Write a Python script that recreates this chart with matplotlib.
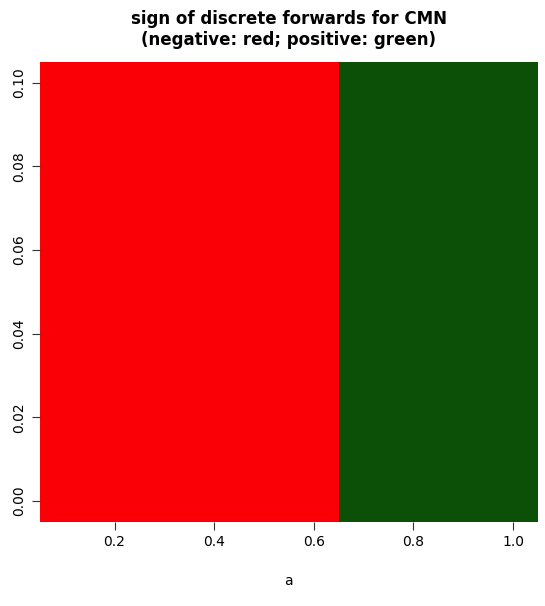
import numpy as np
import matplotlib
matplotlib.use("Agg")
import matplotlib.pyplot as plt
from matplotlib.colors import ListedColormap

a_vals = [0.1, 0.2, 0.3, 0.4, 0.5, 0.6, 0.7, 0.8, 0.9, 1.0]
y_vals = [0.00, 0.01, 0.02, 0.03, 0.04, 0.05, 0.06, 0.07, 0.08, 0.09, 0.10]
sign_by_a = [-1, -1, -1, -1, -1, -1, 1, 1, 1, 1]

Z = np.array([[1 if s > 0 else 0 for s in sign_by_a] for _ in y_vals])

fig = plt.figure(figsize=(5.45, 6.06), dpi=100)
ax = fig.add_axes([0.073, 0.139, 0.914, 0.759])
cmap = ListedColormap(["#fa0006", "#0b5006"])
ax.pcolormesh(a_vals, y_vals, Z, cmap=cmap, vmin=0, vmax=1, shading="nearest")
ax.set_xlim(0.05, 1.05)
ax.set_ylim(-0.005, 0.105)
for s in ax.spines.values():
    s.set_visible(False)
ax.set_xticks([0.2, 0.4, 0.6, 0.8, 1.0])
ax.set_xticklabels(["0.2", "0.4", "0.6", "0.8", "1.0"])
ax.set_yticks([0.00, 0.02, 0.04, 0.06, 0.08, 0.10])
ax.set_yticklabels(["0.00", "0.02", "0.04", "0.06", "0.08", "0.10"], rotation=90, va="center")
ax.tick_params(labelsize=10, length=6, color="#333333")
ax.set_xlabel("a", fontsize=10, labelpad=18)
ax.set_title("sign of discrete forwards for CMN\n(negative: red; positive: green)",
             fontsize=12, fontweight="bold", pad=12)
fig.savefig("out.png", dpi=100)
